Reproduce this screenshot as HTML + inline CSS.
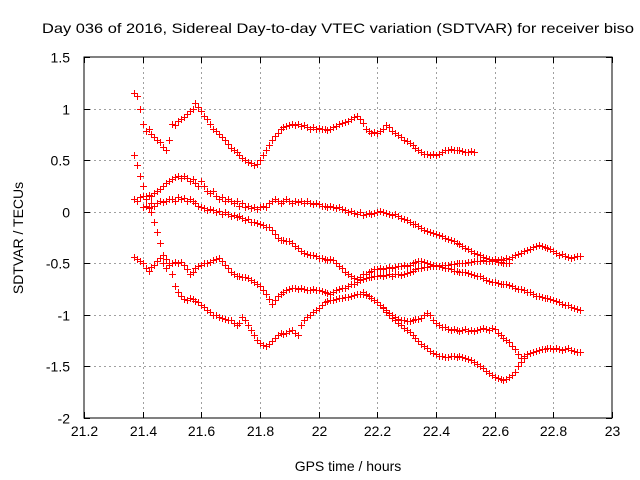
<!DOCTYPE html>
<html><head><meta charset="utf-8"><style>
body{margin:0;background:#fff;}
svg{display:block;font-family:"Liberation Sans",sans-serif;}
</style></head><body>
<svg id="chart" width="640" height="480" viewBox="0 0 640 480">
<text x="338" y="33" font-size="14" text-anchor="middle" textLength="592" lengthAdjust="spacingAndGlyphs">Day 036 of 2016, Sidereal Day-to-day VTEC variation (SDTVAR) for receiver biso</text>
<text x="348" y="471" font-size="14" text-anchor="middle">GPS time / hours</text>
<text transform="translate(23,238) rotate(-90)" font-size="14" text-anchor="middle">SDTVAR / TECUs</text>
<g id="grid"></g>
<g id="ticks"></g>
<g id="marks"></g>
<rect x="84" y="57" width="528" height="361" fill="none" stroke="#000" stroke-width="1"/>
</svg>
<script>
const xTicks=[21.2,21.4,21.6,21.8,22,22.2,22.4,22.6,22.8,23];
const xTickLabels=["21.2","21.4","21.6","21.8","22","22.2","22.4","22.6","22.8","23"];
const yTicks=[1.5,1,0.5,0,-0.5,-1,-1.5,-2];
const yTickLabels=["1.5","1","0.5","0","-0.5","-1","-1.5","-2"];
const sampleStep=0.01;
const trackAStart=21.37;
const trackAVal=[1.15,1.12,1.0,0.85,
0.78,0.8,0.75,0.72,0.7,0.68,0.63,0.6,0.7,
0.85,0.84,0.88,0.9,0.92,0.95,0.98,1.0,1.05,1.02,
0.98,0.93,0.9,0.85,0.8,0.78,0.75,0.72,0.7,0.66,
0.62,0.6,0.58,0.55,0.52,0.5,0.48,0.47,0.45,0.46,
0.5,0.55,0.6,0.65,0.7,0.73,0.76,0.8,0.82,0.83,
0.84,0.85,0.84,0.85,0.83,0.84,0.82,0.8,0.82,0.8,
0.81,0.8,0.8,0.79,0.8,0.82,0.83,0.85,0.86,0.87,
0.88,0.9,0.92,0.93,0.9,0.86,0.8,0.78,0.76,0.77,
0.76,0.78,0.8,0.84,0.82,0.78,0.76,0.74,0.72,0.7,
0.69,0.67,0.65,0.62,0.6,0.58,0.56,0.56,0.55,0.56,
0.55,0.56,0.58,0.6,0.6,0.61,0.6,0.6,0.6,0.59,
0.58,0.58,0.59,0.58];
const trackBStart=21.37;
const trackBVal=[.12,.1,.14,
.15,.12,.16,.15,.18,.2,.22,.25,.28,.3,
.32,.34,.35,.33,.35,.33,.3,.32,.28,.25,
.3,.25,.2,.18,.2,.15,.12,.14,.1,.12,
.1,.08,.1,.06,.08,.05,.06,.04,.05,.03,
.05,.06,.05,.08,.1,.12,.1,.08,.1,.12,
.1,.08,.1,.09,.1,.08,.1,.08,.07,.08,
.07,.06,.06,.05,.06,.05,.04,.05,.03,.02,
0,.01,-.01,-.02,0,-.03,-.02,-.01,-.02,-.01,
0,.01,0,-.01,-.02,-.03,-.02,-.04,-.06,-.07,
-.08,-.1,-.12,-.12,-.14,-.16,-.18,-.19,-.2,-.21,
-.22,-.23,-.24,-.25,-.26,-.27,-.28,-.3,-.31,-.33,
-.35,-.36,-.38,-.4,-.41,-.42,-.44,-.45,-.46,-.47,
-.46,-.47,-.46,-.47,-.45,-.46,-.44,-.42,-.41,-.4,
-.38,-.37,-.36,-.34,-.33,-.32,-.33,-.34,-.35,-.36,
-.38,-.4,-.42,-.41,-.43,-.44,-.45,-.44,-.43,-.43];
const trackCStart=21.37;
const trackCVal=[.55,.45,.35,
.25,.15,.05,0,-.1,-.2,-.3,-.42,-.46,-.5,
-.6,-.72,-.78,-.82,-.85,-.86,-.84,-.85,-.87,-.88,
-.9,-.92,-.95,-.97,-1.0,-1.0,-1.02,-1.03,-1.04,-1.05,
-1.05,-1.08,-1.1,-1.08,-1.02,-1.05,-1.1,-1.15,-1.2,-1.24,
-1.27,-1.29,-1.3,-1.28,-1.25,-1.22,-1.2,-1.18,-1.19,-1.18,
-1.16,-1.15,-1.18,-1.2,-1.1,-1.05,-1.02,-1.0,-.97,-.95,
-.93,-.9,-.88,-.87,-.86,-.86,-.85,-.84,-.84,-.83,
-.83,-.82,-.81,-.8,-.8,-.8,-.81,-.82,-.84,-.86,
-.88,-.9,-.92,-.95,-.98,-1.0,-1.02,-1.04,-1.05,-1.05,
-1.06,-1.06,-1.05,-1.04,-1.04,-1.03,-1.0,-.98,-1.0,-1.05,
-1.08,-1.1,-1.12,-1.12,-1.14,-1.15,-1.14,-1.15,-1.16,-1.15,
-1.14,-1.16,-1.15,-1.16,-1.15,-1.14,-1.13,-1.14,-1.15,-1.13,
-1.14,-1.18,-1.2,-1.22,-1.24,-1.26,-1.3,-1.33,-1.38,-1.42,
-1.4,-1.38,-1.37,-1.36,-1.35,-1.34,-1.33,-1.33,-1.32,-1.32,
-1.33,-1.32,-1.33,-1.34,-1.33,-1.32,-1.34,-1.35,-1.36,-1.36];
const trackDStart=21.40;
const trackDVal=[.05,.06,.04,.08,.06,.08,.1,.09,.1,.12,
.12,.1,.14,.12,.13,.1,.12,.1,.08,.06,
.05,.04,.02,.03,.02,0,.01,-.02,0,-.02,
-.04,-.03,-.05,-.04,-.06,-.08,-.07,-.1,-.1,-.11,
-.12,-.13,-.15,-.15,-.18,-.22,-.25,-.27,-.27,-.28,
-.28,-.3,-.33,-.35,-.38,-.4,-.41,-.42,-.42,-.43,
-.45,-.45,-.46,-.47,-.46,-.47,-.5,-.53,-.55,-.58,
-.6,-.62,-.64,-.65,-.63,-.6,-.6,-.58,-.57,-.56,
-.56,-.55,-.56,-.55,-.54,-.55,-.54,-.53,-.53,-.52,
-.53,-.52,-.5,-.49,-.48,-.48,-.49,-.5,-.51,-.52,
-.52,-.53,-.54,-.55,-.55,-.56,-.57,-.57,-.58,-.58,
-.58,-.59,-.6,-.61,-.62,-.62,-.64,-.66,-.67,-.68,
-.68,-.69,-.7,-.7,-.7,-.71,-.72,-.74,-.75,-.75,
-.76,-.78,-.78,-.8,-.82,-.82,-.83,-.84,-.84,-.85,
-.86,-.87,-.88,-.89,-.9,-.9,-.92,-.93,-.94,-.95];
const trackEStart=21.37;
const trackEVal=[-.44,-.46,-.48,
-.5,-.55,-.57,-.54,-.52,-.48,-.45,-.5,-.55,-.52,
-.5,-.49,-.5,-.49,-.52,-.56,-.6,-.58,-.55,-.53,
-.52,-.5,-.5,-.49,-.47,-.46,-.45,-.48,-.52,-.55,
-.58,-.6,-.62,-.62,-.63,-.63,-.64,-.66,-.68,-.7,
-.72,-.76,-.8,-.85,-.89,-.86,-.82,-.8,-.78,-.76,
-.75,-.74,-.74,-.75,-.74,-.75,-.76,-.76,-.75,-.76,
-.76,-.77,-.78,-.79,-.8,-.78,-.76,-.75,-.74,-.74,
-.72,-.7,-.7,-.68,-.66,-.65,-.64,-.63,-.63,-.62,
-.62,-.61,-.62,-.61,-.6,-.62,-.6,-.6,-.61,-.6,
-.59,-.58,-.57,-.56,-.55,-.55,-.54,-.54,-.53,-.53,
-.53,-.53,-.52,-.52,-.52,-.51,-.51,-.5,-.5,-.5,
-.5,-.49,-.49,-.48,-.48,-.48,-.47,-.48,-.48,-.48,
-.48,-.49,-.49,-.5,-.5,-.5];
const trackGStart=22.15;
const trackGVal=[-.78,-.8,-.82,-.84,-.86,
-.88,-.9,-.93,-.97,-1.0,-1.03,-1.05,-1.08,-1.1,-1.13,
-1.15,-1.17,-1.2,-1.22,-1.25,-1.28,-1.3,-1.32,-1.35,-1.37,
-1.38,-1.4,-1.4,-1.41,-1.41,-1.4,-1.4,-1.41,-1.4,-1.41,
-1.42,-1.43,-1.44,-1.46,-1.48,-1.5,-1.52,-1.54,-1.56,-1.58,
-1.6,-1.61,-1.62,-1.63,-1.62,-1.6,-1.58,-1.55,-1.5,-1.46,-1.42];

const X0=84,X1=612,Y0=57,Y1=418;
const xs=t=>X0+(t-21.2)/(23-21.2)*(X1-X0);
const ys=v=>Y1-(v+2)/(3.5)*(Y1-Y0);
const NS='http://www.w3.org/2000/svg';
const grid=document.getElementById('grid'),ticks=document.getElementById('ticks'),marks=document.getElementById('marks');
function mk(tag,attrs,parent){const e=document.createElementNS(NS,tag);for(const k in attrs)e.setAttribute(k,attrs[k]);parent.appendChild(e);return e;}
xTicks.forEach((t,i)=>{
  const x=Math.round(xs(t))+0.5;
  if(i>0&&i<xTicks.length-1){
    const g=mk('line',{x1:x,x2:x,y1:Y0,y2:Y1,stroke:'#a0a0a0','stroke-dasharray':'2,3'},grid);
    
    
  }
  mk('line',{x1:x,x2:x,y1:Y1,y2:Y1-6,stroke:'#000'},ticks);
  mk('line',{x1:x,x2:x,y1:Y0,y2:Y0+6,stroke:'#000'},ticks);
  const tx=mk('text',{x:x,y:Y1+18,'font-size':14,'text-anchor':'middle'},ticks);
  tx.textContent=xTickLabels[i];
  
  
});
yTicks.forEach((v,i)=>{
  const y=Math.round(ys(v))+0.5;
  if(i>0&&i<yTicks.length-1){
    const g=mk('line',{x1:X0,x2:X1,y1:y,y2:y,stroke:'#a0a0a0','stroke-dasharray':'2,3'},grid);
    
    
  }
  mk('line',{x1:X0,x2:X0+6,y1:y,y2:y,stroke:'#000'},ticks);
  mk('line',{x1:X1,x2:X1-6,y1:y,y2:y,stroke:'#000'},ticks);
  const tx=mk('text',{x:X0-14,y:y+5,'font-size':14,'text-anchor':'end'},ticks);
  tx.textContent=yTickLabels[i];
  
  
});
function drawTrack(start,vs,name){
  const g=mk('g',{},marks);
  
  
  let d='';
  vs.forEach((v,i)=>{
    const t=start+i*sampleStep;
    const x=Math.round(xs(t))+0.5,y=Math.round(ys(v))+0.5;
    d+=`M${x-3.5},${y}h7M${x},${y-3.5}v7`;
  });
  const p=mk('path',{d:d,stroke:'#ff0000','stroke-width':1,fill:'none'},g);
  
  
}
drawTrack(trackAStart,trackAVal,'track-a');
drawTrack(trackBStart,trackBVal,'track-b');
drawTrack(trackCStart,trackCVal,'track-c');
drawTrack(trackDStart,trackDVal,'track-d');
drawTrack(trackEStart,trackEVal,'track-e');
drawTrack(trackGStart,trackGVal,'track-g');
</script>
</body></html>
